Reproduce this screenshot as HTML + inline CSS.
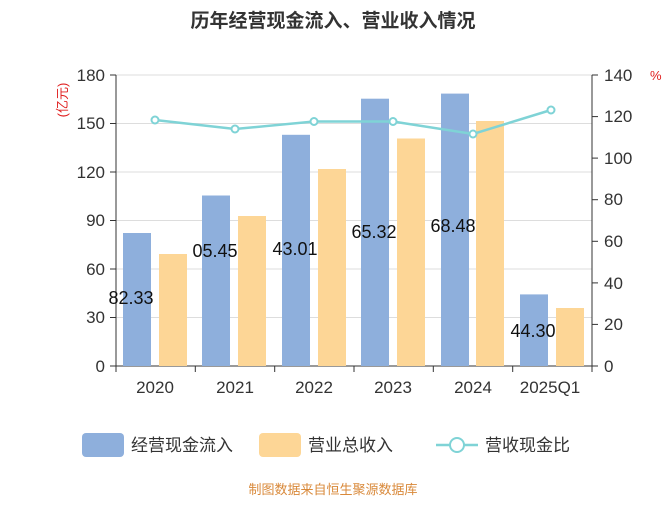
<!DOCTYPE html>
<html><head><meta charset="utf-8"><style>
body{margin:0;background:#fff;width:667px;height:500px;overflow:hidden;font-family:"Liberation Sans","Noto Sans CJK SC",sans-serif}
</style></head><body>
<svg width="667" height="500" xmlns="http://www.w3.org/2000/svg" font-family="Liberation Sans, Noto Sans CJK SC, sans-serif">
<text x="333" y="27" text-anchor="middle" font-size="19" font-weight="bold" fill="#333">历年经营现金流入、营业收入情况</text>
<text x="67" y="100" font-size="13" fill="#e02020" transform="rotate(-90 67 100)" text-anchor="middle">(亿元)</text>
<text x="650" y="80" font-size="13" fill="#e02020">%</text>
<g stroke="#ddd" stroke-width="1">
<line x1="116" y1="75" x2="592" y2="75"/><line x1="116" y1="123.5" x2="592" y2="123.5"/><line x1="116" y1="172" x2="592" y2="172"/><line x1="116" y1="220.5" x2="592" y2="220.5"/><line x1="116" y1="269" x2="592" y2="269"/><line x1="116" y1="317.5" x2="592" y2="317.5"/>
</g>
<g stroke="#333" stroke-width="1">
<line x1="116" y1="75" x2="116" y2="366"/><line x1="592" y1="75" x2="592" y2="366"/><line x1="116" y1="366" x2="592" y2="366"/>
<line x1="110" y1="75" x2="116" y2="75"/><line x1="110" y1="123.5" x2="116" y2="123.5"/><line x1="110" y1="172" x2="116" y2="172"/><line x1="110" y1="220.5" x2="116" y2="220.5"/><line x1="110" y1="269" x2="116" y2="269"/><line x1="110" y1="317.5" x2="116" y2="317.5"/><line x1="110" y1="366" x2="116" y2="366"/>
<line x1="592" y1="75" x2="598" y2="75"/><line x1="592" y1="116.6" x2="598" y2="116.6"/><line x1="592" y1="158.1" x2="598" y2="158.1"/><line x1="592" y1="199.7" x2="598" y2="199.7"/><line x1="592" y1="241.3" x2="598" y2="241.3"/><line x1="592" y1="282.9" x2="598" y2="282.9"/><line x1="592" y1="324.4" x2="598" y2="324.4"/><line x1="592" y1="366" x2="598" y2="366"/>
<line x1="116" y1="366" x2="116" y2="372"/><line x1="195.3" y1="366" x2="195.3" y2="372"/><line x1="274.7" y1="366" x2="274.7" y2="372"/><line x1="354" y1="366" x2="354" y2="372"/><line x1="433.3" y1="366" x2="433.3" y2="372"/><line x1="512.7" y1="366" x2="512.7" y2="372"/><line x1="592" y1="366" x2="592" y2="372"/>
</g>
<g font-size="17" fill="#333" text-anchor="end">
<text x="105" y="81">180</text><text x="105" y="129">150</text><text x="105" y="178">120</text><text x="105" y="226">90</text><text x="105" y="275">60</text><text x="105" y="323">30</text><text x="105" y="372">0</text>
</g>
<g font-size="17" fill="#333">
<text x="604" y="81">140</text><text x="604" y="122">120</text><text x="604" y="164">100</text><text x="604" y="205">80</text><text x="604" y="247">60</text><text x="604" y="289">40</text><text x="604" y="330">20</text><text x="604" y="372">0</text>
</g>
<g font-size="17" fill="#333" text-anchor="middle">
<text x="155" y="393">2020</text><text x="235" y="393">2021</text><text x="314" y="393">2022</text><text x="393" y="393">2023</text><text x="473" y="393">2024</text><text x="550" y="393">2025Q1</text>
</g>
<g fill="#8eafdc">
<rect x="123" y="233" width="28" height="133"/><rect x="202" y="195.5" width="28" height="170.5"/><rect x="282" y="134.8" width="28" height="231.2"/><rect x="361" y="98.7" width="28" height="267.3"/><rect x="441" y="93.6" width="28" height="272.4"/><rect x="520" y="294.4" width="28" height="71.6"/>
</g>
<g fill="#fdd696">
<rect x="159" y="254" width="28" height="112"/><rect x="238" y="216" width="28" height="150"/><rect x="318" y="169" width="28" height="197"/><rect x="397" y="138.5" width="28" height="227.5"/><rect x="476" y="121" width="28" height="245"/><rect x="556" y="308" width="28" height="58"/>
</g>
<polyline points="155,120 235,129 314,121.5 393,121.5 473,134 551,110" fill="none" stroke="#7fd3d6" stroke-width="2.5"/>
<g fill="#fff" stroke="#7fd3d6" stroke-width="2">
<circle cx="155" cy="120" r="3.5"/><circle cx="235" cy="129" r="3.5"/><circle cx="314" cy="121.5" r="3.5"/><circle cx="393" cy="121.5" r="3.5"/><circle cx="473" cy="134" r="3.5"/><circle cx="551" cy="110" r="3.5"/>
</g>
<g font-size="18" fill="#111" text-anchor="middle">
<text x="131" y="304">82.33</text><text x="215" y="257">05.45</text><text x="295" y="255">43.01</text><text x="374" y="238">65.32</text><text x="453" y="232">68.48</text><text x="533" y="337">44.30</text>
</g>
<rect x="82" y="433" width="42" height="24" rx="4" fill="#8eafdc"/>
<text x="131" y="451" font-size="17" fill="#333">经营现金流入</text>
<rect x="259" y="433" width="42" height="24" rx="4" fill="#fdd696"/>
<text x="308" y="451" font-size="17" fill="#333">营业总收入</text>
<line x1="436" y1="445" x2="478" y2="445" stroke="#7fd3d6" stroke-width="2.5"/>
<circle cx="457" cy="445" r="7" fill="#fff" stroke="#7fd3d6" stroke-width="2"/>
<text x="485" y="451" font-size="17" fill="#333">营收现金比</text>
<text x="333" y="494" font-size="13" fill="#d9893a" text-anchor="middle">制图数据来自恒生聚源数据库</text>
</svg>
</body></html>
